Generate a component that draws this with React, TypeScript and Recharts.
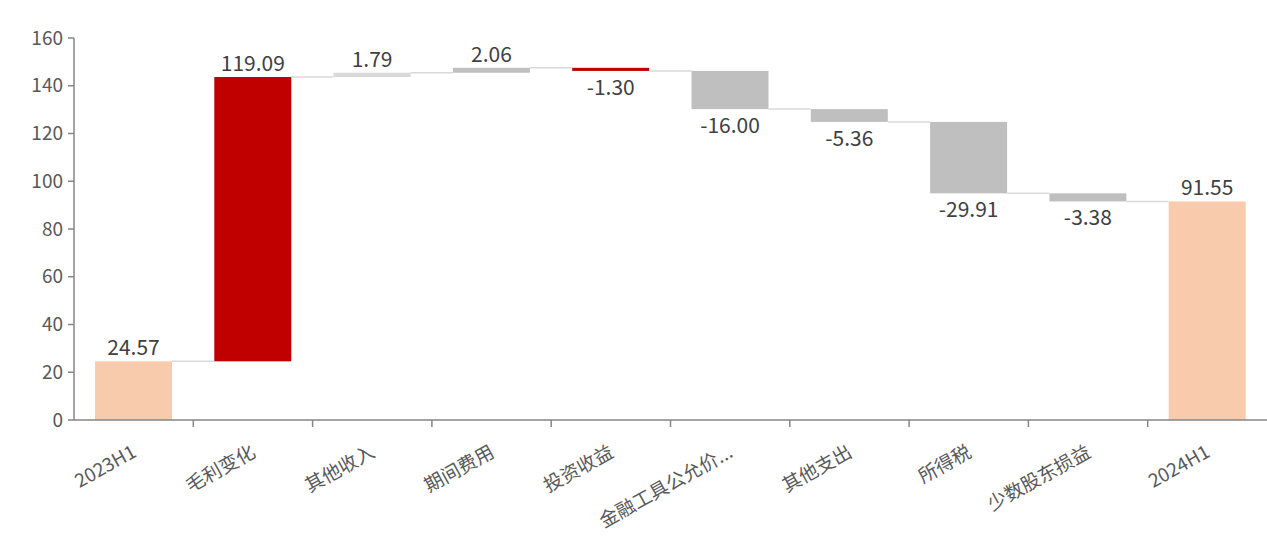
import React from 'react';
import { BarChart, Bar, XAxis, YAxis, LabelList } from 'recharts';

const categories = ['2023H1', '毛利变化', '其他收入', '期间费用', '投资收益', '金融工具公允价...', '其他支出', '所得税', '少数股东损益', '2024H1'];
const changes = [24.57, 119.09, 1.79, 2.06, -1.3, -16.0, -5.36, -29.91, -3.38, 91.55];
const isTotal = [true, false, false, false, false, false, false, false, false, true];
const colors = ['#f8cbad', '#c00000', '#d9d9d9', '#bfbfbf', '#c00000', '#bfbfbf', '#bfbfbf', '#bfbfbf', '#bfbfbf', '#f8cbad'];
const yTicks = [0, 20, 40, 60, 80, 100, 120, 140, 160];

const W = 1267;
const H = 553;
const LEFT = 74;
const STEP = (W - LEFT) / categories.length;
const FONT = '"Noto Sans CJK SC", "Noto Sans", sans-serif';

let running = 0;
const data = categories.map((name, i) => {
  const v = changes[i];
  let base = 0;
  if (isTotal[i]) {
    running = v;
  } else {
    base = v >= 0 ? running : running + v;
    running += v;
  }
  return { name, base, delta: Math.abs(v), value: v, color: colors[i], last: i === categories.length - 1 };
});

const BaseShape = () => null;

const WaterfallShape = (props: any) => {
  const { x, y, width, height, payload } = props;
  const endY = payload.value >= 0 ? y : y + height;
  return (
    <g>
      <rect x={x} y={y} width={width} height={Math.max(height, 0)} fill={payload.color} />
      {!payload.last && (
        <line x1={x + width} x2={x + STEP} y1={endY} y2={endY} stroke="#d9d9d9" strokeWidth={1.5} />
      )}
    </g>
  );
};

const ValueLabel = (props: any) => {
  const { x, y, width, height, index } = props;
  const v = changes[index];
  const ty = v >= 0 ? y - 6 : y + height + 24;
  return (
    <text x={x + width / 2} y={ty} textAnchor="middle" fill="#404040" fontSize={21} fontFamily={FONT}>
      {v.toFixed(2)}
    </text>
  );
};

const XTick = (props: any) => {
  const { x, y, payload, index } = props;
  return (
    <g transform={`translate(${x},${y})`}>
      {index < categories.length - 1 && (
        <line x1={STEP / 2} x2={STEP / 2} y1={0} y2={7} stroke="#868686" strokeWidth={1.5} />
      )}
      <text
        transform="translate(4,36) rotate(-29)"
        textAnchor="end"
        fill="#595959"
        fontSize={19}
        fontFamily={FONT}
      >
        {payload.value}
      </text>
    </g>
  );
};

export default function App() {
  return (
    <div style={{ position: 'absolute', left: 0, top: 0, width: W, height: H, background: '#fff' }}>
      <BarChart
        width={W}
        height={H}
        data={data}
        margin={{ top: 38, right: 0, bottom: 23, left: 0 }}
        barCategoryGap={21}
      >
        <XAxis
          dataKey="name"
          interval={0}
          height={110}
          tickSize={0}
          tickMargin={0}
          tickLine={false}
          axisLine={{ stroke: '#868686', strokeWidth: 1.5 }}
          tick={<XTick />}
        />
        <YAxis
          width={LEFT}
          domain={[0, 160]}
          ticks={yTicks}
          interval={0}
          tickSize={6}
          tickMargin={5}
          axisLine={{ stroke: '#868686', strokeWidth: 1.5 }}
          tickLine={{ stroke: '#868686', strokeWidth: 1.5 }}
          tick={{ fill: '#595959', fontSize: 19, fontFamily: FONT }}
        />
        <Bar dataKey="base" stackId="w" fill="none" shape={<BaseShape />} isAnimationActive={false} />
        <Bar dataKey="delta" stackId="w" shape={<WaterfallShape />} isAnimationActive={false}>
          <LabelList dataKey="delta" content={<ValueLabel />} />
        </Bar>
      </BarChart>
    </div>
  );
}
